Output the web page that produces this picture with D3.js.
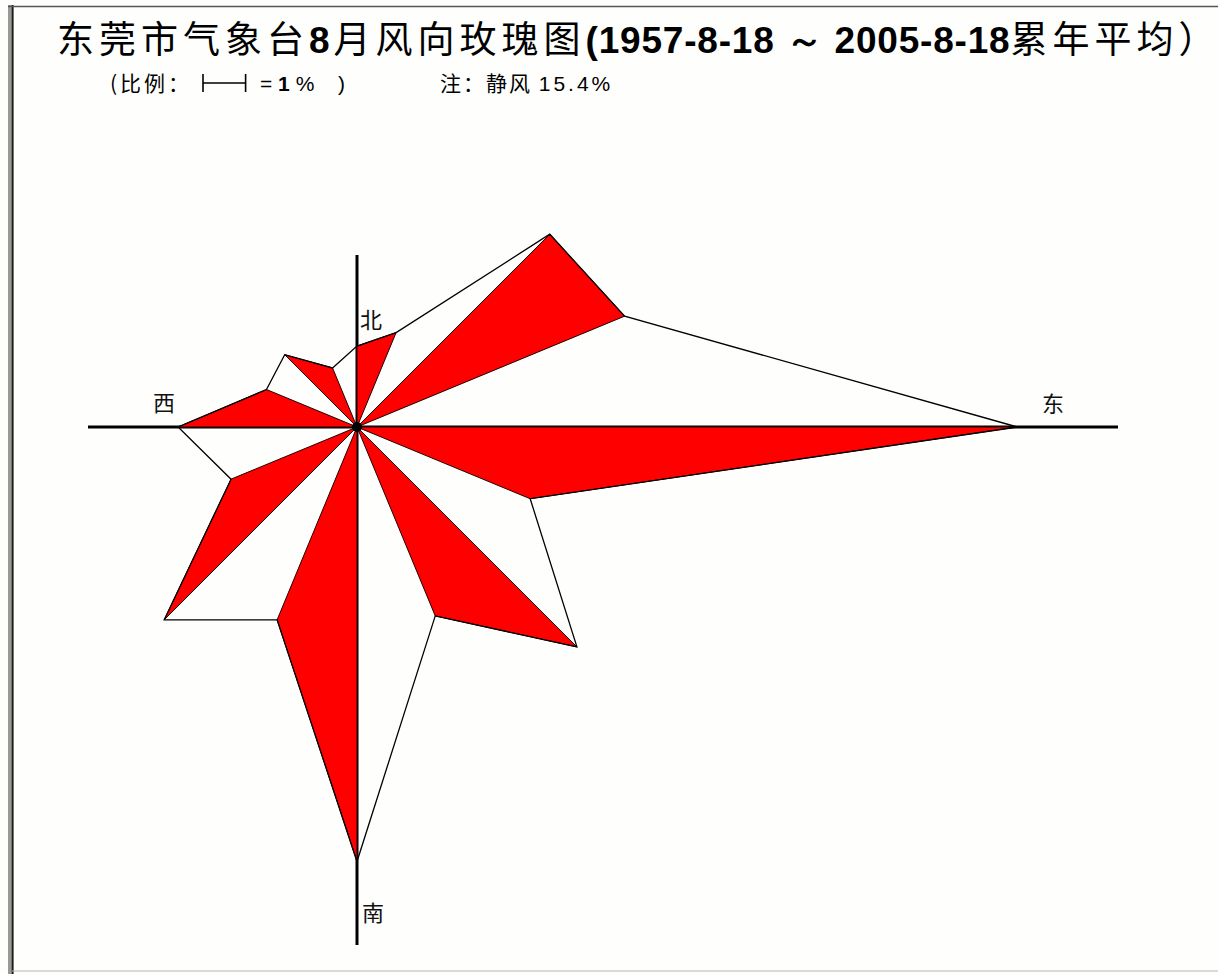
<!DOCTYPE html>
<html>
<head>
<meta charset="utf-8">
<script src="https://cdn.jsdelivr.net/npm/d3@7"></script>
<style>
  html, body { margin: 0; padding: 0; background: #fff; }
  svg { display: block; }
</style>
</head>
<body>
<svg id="chart" width="1218" height="974"></svg>
<script>
// Wind directions, clockwise from north
const directions = ["北", "北东北", "东北", "东东北", "东", "东东南", "东南", "南东南",
                    "南", "南西南", "西南", "西西南", "西", "西北西", "西北", "北西北"];
// Average frequency (%) of each direction, August 1957–2005
const frequencies = [1.9, 2.4, 6.4, 6.8, 15.5, 4.4, 7.3, 4.8,
                     10.2, 4.9, 6.4, 3.2, 4.2, 2.3, 2.4, 1.5];
const calmPercent = 15.4;
const axisLabels = ["北", "东", "南", "西"];

const svg = d3.select("#chart");
const W = 1218, H = 974;
const cx = 357, cy = 427;
const cjk = "'Noto Sans CJK SC', 'Noto Sans', sans-serif";
const latin = "'Liberation Sans', Arial, sans-serif";

// background and window frame
svg.append("rect").attr("width", W).attr("height", H).attr("fill", "#fefefc");
svg.append("rect").attr("x", 8).attr("y", 5).attr("width", 3).attr("height", H - 5).attr("fill", "#9a9a94");
svg.append("line").attr("x1", 12.5).attr("x2", 12.5).attr("y1", 5).attr("y2", H).attr("stroke", "#1a1a1a").attr("stroke-width", 2.2);
svg.append("line").attr("x1", 8).attr("x2", W).attr("y1", 6.5).attr("y2", 6.5).attr("stroke", "#555").attr("stroke-width", 1.5);
svg.append("line").attr("x1", 12).attr("x2", W).attr("y1", 971).attr("y2", 971).attr("stroke", "#b8b8b0").attr("stroke-width", 1);

// radial scale: percent -> pixels
const r = d3.scaleLinear().domain([0, 1]).range([0, 42.6]);
const angle = d3.scaleLinear().domain([0, directions.length]).range([0, 2 * Math.PI]);

const tips = frequencies.map((v, i) => {
  const [x, y] = d3.pointRadial(angle(i), r(v));
  return [cx + x, cy + y];
});

// axes
const axisG = svg.append("g").attr("stroke", "#000").attr("stroke-width", 3);
axisG.append("line").attr("x1", 88).attr("x2", 1118).attr("y1", cy).attr("y2", cy);
axisG.append("line").attr("x1", cx).attr("x2", cx).attr("y1", 255).attr("y2", 945);

// red half-sectors: centre -> tip of each even direction -> tip of next direction
const line = d3.line();
const sectors = d3.range(0, directions.length, 2).map(i => [[cx, cy], tips[i], tips[(i + 1) % tips.length]]);
svg.append("g").selectAll("path").data(sectors).join("path")
  .attr("d", d => line(d) + "Z")
  .attr("fill", "#ff0000")
  .attr("stroke", "#200000")
  .attr("stroke-width", 1)
  .attr("stroke-linejoin", "round");

// outline joining all direction tips
svg.append("path")
  .attr("d", line(tips) + "Z")
  .attr("fill", "none")
  .attr("stroke", "#000")
  .attr("stroke-width", 1.3);

// centre dot
svg.append("circle").attr("cx", cx).attr("cy", cy).attr("r", 5).attr("fill", "#000");

// compass labels
const labelPos = { "北": [360, 328], "东": [1042, 412], "南": [362, 921], "西": [153, 411] };
svg.append("g").selectAll("text").data(axisLabels).join("text")
  .attr("x", d => labelPos[d][0]).attr("y", d => labelPos[d][1])
  .attr("font-family", cjk).attr("font-size", 22).attr("fill", "#111")
  .text(d => d);

// title
const title = svg.append("text")
  .attr("x", 57).attr("y", 53)
  .attr("font-size", 37).attr("fill", "#000");
const titleParts = [
  ["东莞市气象台", cjk, 400, 5],
  ["8", latin, 700, 4],
  ["月风向玫瑰图", cjk, 400, 5],
  ["(1957-8-18 ～ 2005-8-18", latin, 700, 0.8],
  ["累年平均", cjk, 400, 5],
  ["）", cjk, 400, 0]
];
titleParts.forEach(([t, f, w, ls]) => {
  title.append("tspan").attr("font-family", f).attr("font-weight", w)
    .attr("letter-spacing", ls).text(t);
});

// scale note and calm note
const note = svg.append("g").attr("font-size", 21).attr("fill", "#000");
note.append("text").attr("x", 110).attr("y", 91).attr("font-family", cjk)
  .attr("letter-spacing", 3).text("(比例：");
const barY = 83;
const barX0 = 203, barX1 = barX0 + r(1);
const bar = note.append("g").attr("stroke", "#000").attr("stroke-width", 1.6);
bar.append("line").attr("x1", barX0).attr("x2", barX1).attr("y1", barY).attr("y2", barY);
bar.append("line").attr("x1", barX0).attr("x2", barX0).attr("y1", barY - 9).attr("y2", barY + 9);
bar.append("line").attr("x1", barX1).attr("x2", barX1).attr("y1", barY - 9).attr("y2", barY + 9);
const eq = note.append("text").attr("x", 260).attr("y", 91).attr("font-family", latin);
eq.append("tspan").text("= ");
eq.append("tspan").attr("font-weight", 700).text("1");
eq.append("tspan").text(" %");
note.append("text").attr("x", 338).attr("y", 91).attr("font-family", latin).text(")");
const calm = note.append("text").attr("x", 440).attr("y", 91).attr("font-family", cjk);
calm.append("tspan").attr("letter-spacing", 2).text("注：静风 ");
calm.append("tspan").attr("font-family", latin).attr("letter-spacing", 3).text(calmPercent + "%");
</script>
</body>
</html>
